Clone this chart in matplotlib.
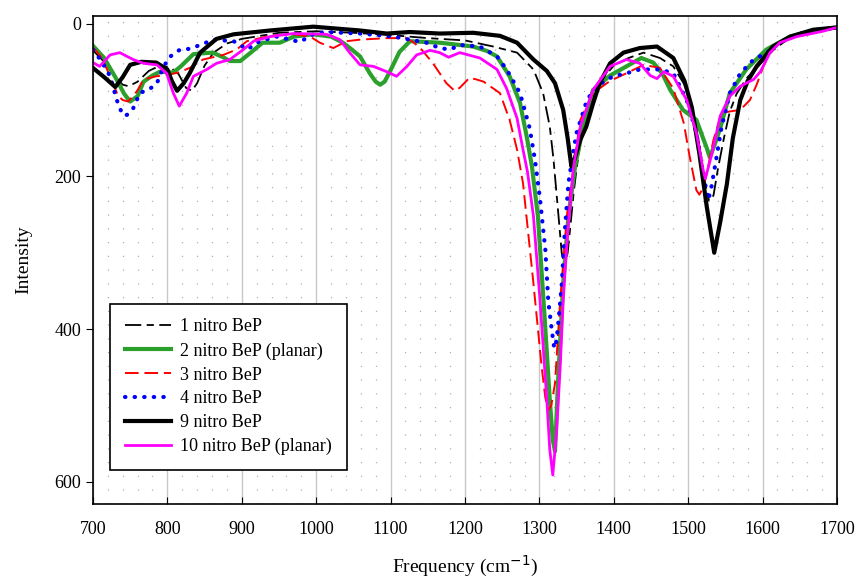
import matplotlib.pyplot as plt
from matplotlib.ticker import MultipleLocator

plt.rcParams['font.family'] = ['Liberation Serif', 'DejaVu Serif']

# 1 nitro BeP
x1 = [700, 715, 728, 740, 748, 760, 775, 790, 805, 815, 825, 833, 840, 850, 862, 880, 900,
      950, 1000, 1050, 1100, 1150, 1200, 1238, 1270, 1292, 1305, 1314, 1319, 1325, 1330, 1334,
      1338, 1342, 1346, 1350, 1356, 1363, 1372, 1385, 1400, 1420, 1440, 1462, 1480, 1495, 1505,
      1515, 1522, 1528, 1534, 1540, 1548, 1556, 1565, 1578, 1592, 1614, 1637, 1668, 1700]
y1 = [35, 50, 68, 80, 82, 76, 62, 55, 58, 66, 84, 88, 78, 55, 38, 26, 20,
      12, 10, 12, 15, 19, 22, 30, 38, 60, 91, 135, 178, 244, 300, 318,
      300, 262, 222, 190, 150, 120, 95, 72, 55, 45, 38, 45, 56, 80, 110,
      160, 205, 232, 225, 190, 150, 115, 92, 72, 58, 35, 18, 9, 5]

# 2 nitro BeP (planar)
x2 = [700, 715, 730, 742, 750, 760, 768, 780, 790, 808, 818, 835, 845, 861, 875, 884, 898,
      912, 928, 951, 970, 996, 1020, 1036, 1048, 1059, 1072, 1080, 1086, 1092, 1099, 1112,
      1126, 1166, 1193, 1211, 1230, 1243, 1260, 1274, 1283, 1290, 1298, 1307, 1314, 1318,
      1321, 1325, 1332, 1339, 1348, 1360, 1372, 1395, 1417, 1437, 1453, 1465, 1476, 1493,
      1500, 1511, 1520, 1525, 1529, 1535, 1543, 1556, 1578, 1605, 1637, 1670, 1700]
y2 = [29, 45, 70, 92, 102, 95, 76, 68, 63, 64, 56, 40, 39, 38, 44, 49, 49,
      38, 25, 25, 17, 14, 17, 25, 34, 43, 65, 76, 80, 76, 63, 37,
      23, 25, 28, 30, 36, 43, 69, 104, 148, 187, 252, 384, 493, 545,
      560, 471, 340, 252, 187, 130, 87, 68, 56, 45, 51, 65, 87, 113,
      118, 126, 150, 163, 175, 160, 137, 91, 60, 34, 17, 9, 5]

# 3 nitro BeP
x3 = [700, 712, 723, 734, 740, 747, 755, 760, 768, 785, 800, 815, 830, 848, 875, 893, 907,
      938, 970, 992, 1005, 1023, 1041, 1059, 1095, 1121, 1130, 1140, 1157, 1175, 1186, 1193,
      1206, 1215, 1225, 1247, 1260, 1270, 1278, 1292, 1303, 1308, 1312, 1316, 1321, 1328,
      1337, 1346, 1355, 1372, 1395, 1417, 1440, 1462, 1480, 1494, 1502, 1511, 1515, 1520,
      1525, 1534, 1545, 1556, 1570, 1583, 1592, 1601, 1614, 1637, 1670, 1700]
y3 = [31, 45, 69, 95, 100, 102, 94, 87, 73, 69, 67, 64, 58, 47, 41, 34, 23,
      16, 14, 17, 25, 32, 23, 21, 19, 19, 24, 32, 52, 78, 88, 84,
      71, 73, 76, 91, 126, 165, 209, 340, 449, 490, 506, 500, 471, 362,
      252, 187, 126, 91, 75, 65, 54, 58, 85, 130, 174, 218, 224, 215,
      196, 152, 117, 115, 113, 100, 80, 56, 30, 17, 9, 5]

# 4 nitro BeP
x4 = [700, 712, 723, 732, 738, 743, 748, 754, 763, 777, 786, 795, 804, 817, 830, 844, 862,
      889, 898, 907, 924, 947, 965, 978, 996, 1014, 1059, 1104, 1148, 1166, 1180, 1193, 1220,
      1243, 1256, 1274, 1287, 1294, 1301, 1308, 1312, 1317, 1320, 1323, 1326, 1330, 1334,
      1339, 1346, 1350, 1364, 1377, 1399, 1417, 1435, 1462, 1480, 1498, 1511, 1520, 1527,
      1531, 1536, 1545, 1556, 1570, 1588, 1606, 1623, 1646, 1675, 1700]
y4 = [34, 50, 69, 100, 115, 121, 118, 111, 91, 85, 78, 56, 43, 34, 33, 28, 21,
      23, 28, 34, 23, 17, 21, 24, 14, 11, 13, 17, 25, 32, 34, 28, 30,
      43, 60, 91, 137, 178, 231, 296, 364, 404, 425, 415, 386, 342, 274,
      209, 165, 143, 100, 82, 69, 65, 60, 60, 65, 100, 143, 196, 231,
      215, 187, 135, 91, 65, 47, 38, 25, 14, 8, 5]

# 9 nitro BeP
x9 = [700, 715, 730, 740, 750, 765, 785, 800, 806, 813, 822, 830, 844, 866, 889, 938, 996,
      1059, 1095, 1126, 1166, 1211, 1247, 1270, 1292, 1310, 1321, 1332, 1338, 1343, 1347,
      1355, 1363, 1372, 1381, 1395, 1413, 1435, 1458, 1480, 1495, 1505, 1515, 1525, 1535,
      1543, 1552, 1560, 1570, 1580, 1592, 1614, 1637, 1668, 1700]
y9 = [58, 70, 83, 70, 54, 50, 51, 60, 75, 88, 78, 65, 38, 20, 14, 9, 4,
      9, 13, 11, 13, 12, 16, 25, 47, 62, 78, 113, 150, 187, 178,
      152, 135, 105, 78, 52, 38, 32, 30, 45, 75, 110, 170, 240, 300,
      260, 210, 150, 100, 75, 56, 30, 17, 8, 5]

# 10 nitro BeP (planar)
x10 = [700, 709, 723, 736, 754, 768, 786, 799, 808, 816, 826, 835, 853, 866, 884, 902, 916,
       938, 969, 1014, 1032, 1045, 1059, 1077, 1095, 1108, 1122, 1135, 1153, 1166, 1178,
       1193, 1220, 1243, 1256, 1270, 1278, 1284, 1292, 1301, 1310, 1314, 1318, 1323, 1328,
       1332, 1338, 1346, 1355, 1372, 1395, 1417, 1435, 1449, 1458, 1467, 1480, 1498, 1511,
       1520, 1523, 1532, 1543, 1556, 1570, 1588, 1597, 1610, 1623, 1646, 1681, 1700]
y10 = [51, 56, 41, 38, 47, 52, 54, 65, 91, 108, 91, 69, 60, 52, 47, 34, 23,
       17, 13, 14, 21, 38, 54, 56, 63, 69, 56, 41, 35, 38, 44,
       38, 45, 60, 85, 124, 165, 194, 252, 364, 493, 558, 591, 536, 449,
       362, 274, 187, 135, 87, 56, 47, 52, 68, 72, 63, 69, 100, 143,
       191, 203, 170, 121, 95, 82, 73, 63, 38, 25, 17, 10, 5]

fig = plt.figure(figsize=(8.56, 5.81), dpi=100)
ax = fig.add_axes([0.1086, 0.1325, 0.8692, 0.84])

ax.plot(x1, y1, color='black', lw=1.3, dashes=(9, 3, 4, 3), label='1 nitro BeP')
ax.plot(x2, y2, color='#2ca02c', lw=3, label='2 nitro BeP (planar)')
ax.plot(x3, y3, color='red', lw=1.4, dashes=(7, 3), label='3 nitro BeP')
ax.plot(x4, y4, color='blue', lw=3, linestyle=(0, (0.1, 2.2)), dash_capstyle='round',
        label='4 nitro BeP')
ax.plot(x9, y9, color='black', lw=3, label='9 nitro BeP')
ax.plot(x10, y10, color='magenta', lw=2, label='10 nitro BeP (planar)')

ax.set_xlim(700, 1700)
ax.set_ylim(629, -10)
ax.xaxis.set_major_locator(MultipleLocator(100))
ax.xaxis.set_minor_locator(MultipleLocator(20))
ax.set_yticks([0, 200, 400, 600])
ax.grid(True, which='major', axis='x', color='#c8c8c8', lw=1)
ax.grid(True, which='minor', axis='x', color='#b0b0b0', lw=0.9, linestyle=(0, (1, 10)))
ax.set_axisbelow(True)

ax.tick_params(axis='x', which='major', direction='in', length=5, pad=12, labelsize=13)
ax.tick_params(axis='x', which='minor', length=0)
ax.tick_params(axis='y', direction='out', length=5, labelsize=13)
for s in ax.spines.values():
    s.set_linewidth(1.2)

ax.set_xlabel('Frequency (cm$^{-1}$)', fontsize=14, labelpad=12)
ax.set_ylabel('Intensity', fontsize=14, labelpad=16)

leg = ax.legend(loc='lower left', bbox_to_anchor=(0.023, 0.07), borderaxespad=0, fontsize=13,
                frameon=True, fancybox=False, edgecolor='black', framealpha=1,
                handlelength=2.6, labelspacing=0.38, borderpad=0.8, handletextpad=0.5)
leg.get_frame().set_linewidth(1.2)

fig.savefig('out.png', dpi=100)
